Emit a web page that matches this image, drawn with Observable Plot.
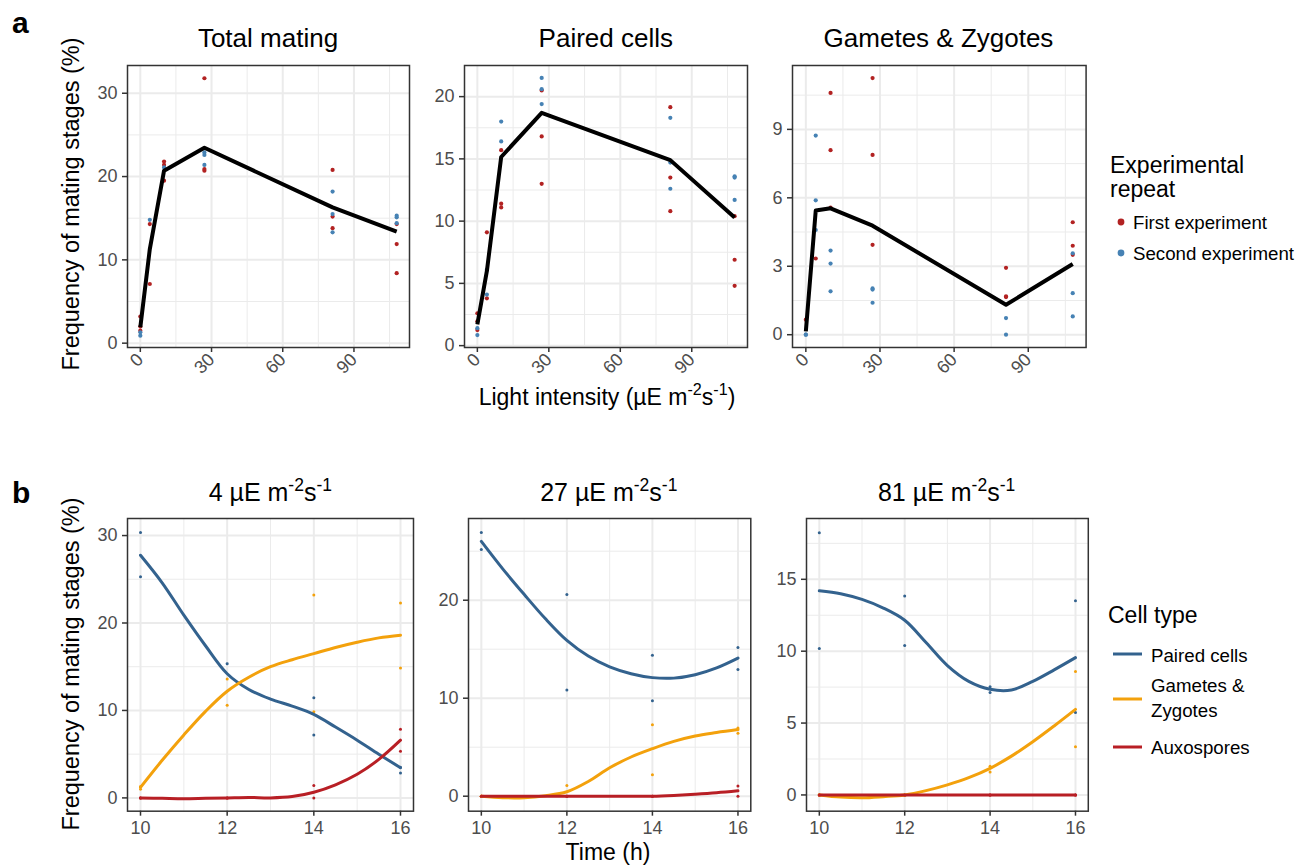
<!DOCTYPE html>
<html><head><meta charset="utf-8">
<script src="https://cdn.jsdelivr.net/npm/d3@7"></script>
<script src="https://cdn.jsdelivr.net/npm/@observablehq/plot@0.6"></script>
<style>
body{margin:0;background:#fff;}
#root{position:relative;width:1311px;height:866px;overflow:hidden;background:#fff;font-family:"Liberation Sans",Arial,sans-serif;}
#root svg{position:absolute;}
</style></head><body><div id="root"></div>
<script>
// ---------- data: panel a (light intensity) ----------
const lightLevels = [0, 4, 10, 27, 81, 108];
const xTicksA = [0, 30, 60, 90];
const totalFirst  = [[3.2,2.0,1.5],[14.3,7.1],[21.8,21.4,19.5],[31.8,20.9,20.7],[20.8,15.2,13.8],[14.3,11.9,8.4]];
const totalSecond = [[1.3,0.9],[14.8],[21.1],[22.9,22.6,21.4],[18.2,15.5,13.3],[15.3,15.1,14.4]];
const totalMean   = [1.9, 11.3, 20.7, 23.45, 16.3, 13.4];
const pairedFirst  = [[2.6,1.95,1.25],[9.1,3.8],[15.7,11.4,11.1],[20.5,16.8,13.0],[19.15,13.5,10.8],[10.4,6.9,4.8]];
const pairedSecond = [[1.4,0.85],[6.1,4.1],[18.0,16.4],[21.5,20.6,19.4],[18.3,14.7,12.6],[13.6,13.5,11.7]];
const pairedMean   = [1.7, 6.0, 15.15, 18.7, 14.9, 10.3];
const gamFirst  = [[0.66],[3.34],[10.6,8.09,5.57],[11.25,7.88,3.94],[2.93,1.68,1.65],[4.93,3.9,3.5]];
const gamSecond = [[0,0],[8.73,5.89,4.59],[3.69,3.12,1.9],[2.03,1.98,1.4],[0.73,0.0],[3.57,1.82,0.8]];
const gamMean   = [0.15, 5.44, 5.54, 4.78, 1.31, 3.1];
const repeatNames = ["First experiment", "Second experiment"];
const repeatColors = ["#b22222", "#4682b4"];

// ---------- data: panel b (time course) ----------
const times = [10, 12, 14, 16];
const smoothTimes = [10,10.5,11,11.5,12,12.5,13,13.5,14,14.5,15,15.5,16];
const cellTypes = ["Paired cells", "Gametes & Zygotes", "Auxospores"];
const cellColors = ["#33628e", "#f3a10c", "#b81f25"];
const p4Paired  = [[30.35,25.3],[15.35],[11.45,7.2],[3.5,2.86]];
const p4Gametes = [[1.3,1.0],[13.6,10.6],[23.2,9.85],[22.3,14.85]];
const p4Auxo    = [[0,0],[0,0],[1.41,0],[7.86,5.34]];
const s4Paired  = [27.75,24.6,20.9,17.4,14.2,12.4,11.3,10.5,9.55,8.1,6.6,5.0,3.45];
const s4Gametes = [1.2,4.3,7.2,9.9,12.2,13.8,15.0,15.8,16.5,17.2,17.8,18.3,18.6];
const s4Auxo    = [0,-0.05,-0.1,-0.05,0,0.05,0,0.15,0.65,1.5,2.7,4.4,6.6];
const p27Paired  = [[26.9,25.17],[20.58,10.85],[14.39,9.73],[15.17,12.93]];
const p27Gametes = [[0,0],[1.09,0],[7.3,2.2],[6.97,6.43]];
const p27Auxo    = [[0,0],[0,0],[0,0],[1.05,0]];
const s27Paired  = [26.0,23.2,20.6,18.1,15.9,14.3,13.2,12.5,12.1,12.05,12.4,13.1,14.1];
const s27Gametes = [0,-0.15,-0.15,0.05,0.45,1.5,2.9,4.0,4.85,5.6,6.15,6.5,6.8];
const s27Auxo    = [0,0,0,0,0,0,0,0,0,0.08,0.2,0.35,0.55];
const p81Paired  = [[18.24,10.19],[13.84,10.4],[7.52,7.13],[13.5,5.74]];
const p81Gametes = [[0,0],[0,0],[2.0,1.6],[8.59,3.36]];
const p81Auxo    = [[0,0],[0,0],[0,0],[0,0]];
const s81Paired  = [14.2,14.0,13.6,13.0,12.15,10.6,9.0,7.9,7.35,7.3,7.9,8.7,9.55];
const s81Gametes = [0,-0.15,-0.2,-0.12,0,0.3,0.7,1.2,1.85,2.7,3.7,4.8,5.95];
const s81Auxo    = [0,0,0,0,0,0,0,0,0,0,0,0,0];
const xTicksB = [10, 12, 14, 16];

// ---------- helpers ----------
const FONT = "'Liberation Sans', Arial, sans-serif";
const root = document.getElementById("root");
function expand(levels, groups, series) {
  const out = [];
  groups.forEach((vals, i) => vals.forEach(v => out.push({x: levels[i], y: v, s: series})));
  return out;
}
function zipLine(xs, ys, series) { return xs.map((x, i) => ({x, y: ys[i], s: series})); }

function panel({left, top, fw, fh, xdom, ydom, xt, yt, xm, ym, rotate, color, marks}) {
  const ml = 55, mr = 3, mt = 3, mb = 50;
  const grid = {stroke: "#ebebeb", strokeOpacity: 1};
  const svg = Plot.plot({
    width: ml + fw + mr, height: mt + fh + mb,
    marginLeft: ml, marginRight: mr, marginTop: mt, marginBottom: mb,
    x: {domain: xdom}, y: {domain: ydom}, color,
    style: {fontFamily: FONT, background: "transparent", overflow: "visible"},
    marks: [
      Plot.gridX(xm, {...grid, strokeWidth: 1}),
      Plot.gridY(ym, {...grid, strokeWidth: 1}),
      Plot.gridX(xt, {...grid, strokeWidth: 2}),
      Plot.gridY(yt, {...grid, strokeWidth: 2}),
      ...marks,
      Plot.frame({stroke: "#333", strokeWidth: 1.5}),
      Plot.axisY(yt, {tickSize: 5, tickPadding: 5, fontSize: 18, stroke: "#333", strokeWidth: 1.5, fill: "#4d4d4d", label: null}),
      rotate
        ? Plot.axisX(xt, {tickSize: 5, tickPadding: 4, fontSize: 18, stroke: "#333", strokeWidth: 1.5, fill: "#4d4d4d", label: null, tickRotate: -45})
        : Plot.axisX(xt, {tickSize: 5, tickPadding: 5, fontSize: 18, stroke: "#333", strokeWidth: 1.5, fill: "#4d4d4d", label: null})
    ]
  });
  svg.style.left = (left - ml) + "px";
  svg.style.top = (top - mt) + "px";
  root.appendChild(svg);
}

const colorA = {domain: repeatNames, range: repeatColors};
const colorB = {domain: cellTypes, range: cellColors};

function panelA(left, fw, ydom, yt, ym, first, second, mean) {
  const pts = [...expand(lightLevels, first, repeatNames[0]), ...expand(lightLevels, second, repeatNames[1])];
  panel({left, top: 65, fw, fh: 282, xdom: [-5.4, 113.4], ydom, xt: xTicksA, yt, xm: [15, 45, 75, 105], ym, rotate: true, color: colorA,
    marks: [
      Plot.dot(pts, {x: "x", y: "y", fill: "s", r: 2.1}),
      Plot.line(zipLine(lightLevels, mean, "mean"), {x: "x", y: "y", stroke: "black", strokeWidth: 4, strokeLinejoin: "round", strokeLinecap: "butt"})
    ]});
}
panelA(127, 282, [-0.52, 33.33], [0,10,20,30], [5,15,25], totalFirst, totalSecond, totalMean);
panelA(464.3, 283, [-0.15, 22.5], [0,5,10,15,20], [2.5,7.5,12.5,17.5], pairedFirst, pairedSecond, pairedMean);
panelA(791.7, 293.6, [-0.56, 11.8], [0,3,6,9], [1.5,4.5,7.5,10.5], gamFirst, gamSecond, gamMean);

function panelB(left, fw, ydom, yt, ym, pts3, sm3) {
  const pts = cellTypes.flatMap((c, i) => expand(times, pts3[i], c));
  const lines = cellTypes.flatMap((c, i) => zipLine(smoothTimes, sm3[i], c));
  panel({left, top: 518.3, fw, fh: 292.7, xdom: [9.7, 16.3], ydom, xt: xTicksB, yt, xm: [11, 13, 15], ym, rotate: false, color: colorB,
    marks: [
      Plot.dot(pts, {x: "x", y: "y", fill: "s", r: 1.5}),
      Plot.line(lines, {x: "x", y: "y", z: "s", stroke: "s", strokeWidth: 3, curve: "catmull-rom"})
    ]});
}
panelB(127.3, 286, [-1.52, 31.95], [0,10,20,30], [5,15,25], [p4Paired, p4Gametes, p4Auxo], [s4Paired, s4Gametes, s4Auxo]);
panelB(467.7, 282.3, [-1.53, 28.34], [0,10,20], [5,15,25], [p27Paired, p27Gametes, p27Auxo], [s27Paired, s27Gametes, s27Auxo]);
panelB(805.7, 281.8, [-1.13, 19.23], [0,5,10,15], [2.5,7.5,12.5,17.5], [p81Paired, p81Gametes, p81Auxo], [s81Paired, s81Gametes, s81Auxo]);

// ---------- text overlay ----------
const ov = d3.select(root).append("svg").attr("width", 1311).attr("height", 866)
  .style("left", "0px").style("top", "0px").style("pointer-events", "none")
  .attr("font-family", FONT);
function txt(x, y, s, {size = 20, anchor = "start", weight = "normal", fill = "#000", rotate = 0} = {}) {
  const t = ov.append("text").attr("x", x).attr("y", y).attr("font-size", size).attr("text-anchor", anchor)
    .attr("font-weight", weight).attr("fill", fill);
  if (rotate) t.attr("transform", `rotate(${rotate},${x},${y})`);
  if (Array.isArray(s)) {
    let pendingDy = 0;
    s.forEach(part => {
      if (typeof part === "string") {
        const sp = t.append("tspan").text(part);
        if (pendingDy) sp.attr("dy", pendingDy);
        pendingDy = 0;
      } else {
        t.append("tspan").attr("font-size", size * 0.7).attr("dy", -size * 0.42 + pendingDy).text(part.sup);
        pendingDy = size * 0.42;
      }
    });
  } else t.text(s);
  return t;
}
txt(12, 33, "a", {size: 30, weight: "bold"});
txt(12, 503, "b", {size: 30, weight: "bold"});
txt(268, 47, "Total mating", {size: 26, anchor: "middle"});
txt(605.8, 47, "Paired cells", {size: 26, anchor: "middle"});
txt(938.5, 47, "Gametes & Zygotes", {size: 26, anchor: "middle"});
txt(270.3, 501, ["4 \u00B5E m", {sup: "-2"}, "s", {sup: "-1"}], {size: 25, anchor: "middle"});
txt(608.8, 501, ["27 \u00B5E m", {sup: "-2"}, "s", {sup: "-1"}], {size: 25, anchor: "middle"});
txt(946.6, 501, ["81 \u00B5E m", {sup: "-2"}, "s", {sup: "-1"}], {size: 25, anchor: "middle"});
txt(79, 204, "Frequency of mating stages (%)", {size: 23.5, anchor: "middle", rotate: -90});
txt(79, 664, "Frequency of mating stages (%)", {size: 23.5, anchor: "middle", rotate: -90});
txt(607, 405, ["Light intensity (\u00B5E m", {sup: "-2"}, "s", {sup: "-1"}, ")"], {size: 23, anchor: "middle"});
txt(608, 860, "Time (h)", {size: 23, anchor: "middle"});

// legend a
txt(1110, 173, "Experimental", {size: 23});
txt(1110, 197, "repeat", {size: 23});
repeatNames.forEach((n, i) => {
  const y = [222, 253][i];
  ov.append("circle").attr("cx", 1121).attr("cy", y).attr("r", 3.4).attr("fill", repeatColors[i]);
  txt(1133, y + 7, n, {size: 18.7});
});
// legend b
txt(1108, 623, "Cell type", {size: 23});
[654, 699, 747].forEach((y, i) => {
  ov.append("line").attr("x1", 1113).attr("x2", 1142).attr("y1", y).attr("y2", y).attr("stroke", cellColors[i]).attr("stroke-width", 3);
});
txt(1151, 662, "Paired cells", {size: 18.7});
txt(1151, 692, "Gametes &", {size: 18.7});
txt(1151, 717, "Zygotes", {size: 18.7});
txt(1151, 754, "Auxospores", {size: 18.7});
</script></body></html>
